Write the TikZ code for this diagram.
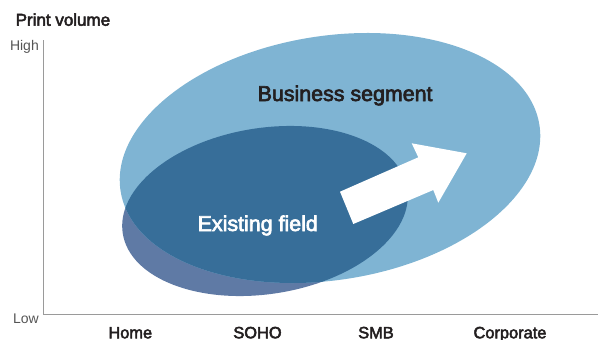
\documentclass[tikz,border=0pt]{standalone}
\usepackage{fontspec}
\setmainfont{Liberation Sans}
\newfontfamily\medfont{Liberation Sans}[FakeBold=3]
\definecolor{lightseg}{HTML}{7FB4D3}
\definecolor{darkseg}{HTML}{376E99}
\definecolor{slateseg}{HTML}{5F7AA5}
\definecolor{axisgray}{HTML}{9A9A9A}
\definecolor{txtdark}{HTML}{231F20}
\definecolor{txtgray}{HTML}{555555}
\begin{document}
\begin{tikzpicture}[x=1pt,y=-1pt,
  lbl/.style={inner sep=0pt,text=txtdark},
  ticklbl/.style={lbl,font=\medfont\fontsize{16.4}{18}\selectfont,anchor=base},
  endlbl/.style={inner sep=0pt,text=txtgray,font=\fontsize{14}{16}\selectfont,anchor=base east},
  seglbl/.style={inner sep=0pt,font=\medfont\fontsize{21.4}{24}\selectfont,anchor=base west},
  axisline/.style={draw=axisgray,line width=1.1pt}]
\useasboundingbox (0,0) rectangle (598,340);
% ellipses
\fill[slateseg,rotate around={9:(265,211)}] (265,211) ellipse (144 and 83);
\fill[lightseg,rotate around={9:(330,158)}] (330,158) ellipse (212 and 122);
\begin{scope}
  \clip[rotate around={9:(265,211)}] (265,211) ellipse (144 and 83);
  \fill[darkseg,rotate around={9:(330,158)}] (330,158) ellipse (212 and 122);
\end{scope}
% arrow
\fill[white] (340,191.7) -- (418.3,157.3) -- (411.7,143.3) -- (466.7,153.3)
  -- (438.3,202.7) -- (433.3,190) -- (353.3,224) -- cycle;
% axes
\coordinate (top) at (43.3,40);
\coordinate (orig) at (43.3,314.3);
\coordinate (xend) at (598,314.3);
\draw[axisline] (top) -- (orig) -- (xend);
% labels
\node[lbl,anchor=base west,font=\medfont\fontsize{17}{20}\selectfont] (ylabel) at (15.5,25.7) {Print volume};
\node[endlbl] (high) at (39,50.7) {High};
\node[endlbl] (low) at (39,323.3) {Low};
\node[ticklbl] (home) at (130.3,338.3) {Home};
\node[ticklbl] (soho) at (257.5,338.3) {SOHO};
\node[ticklbl] (smb) at (376,338.3) {SMB};
\node[ticklbl] (corp) at (510,338.3) {Corporate};
\node[seglbl,text=txtdark] (business) at (257.5,101) {Business segment};
\node[seglbl,text=white] (existing) at (197.5,231) {Existing field};
\end{tikzpicture}
\end{document}
